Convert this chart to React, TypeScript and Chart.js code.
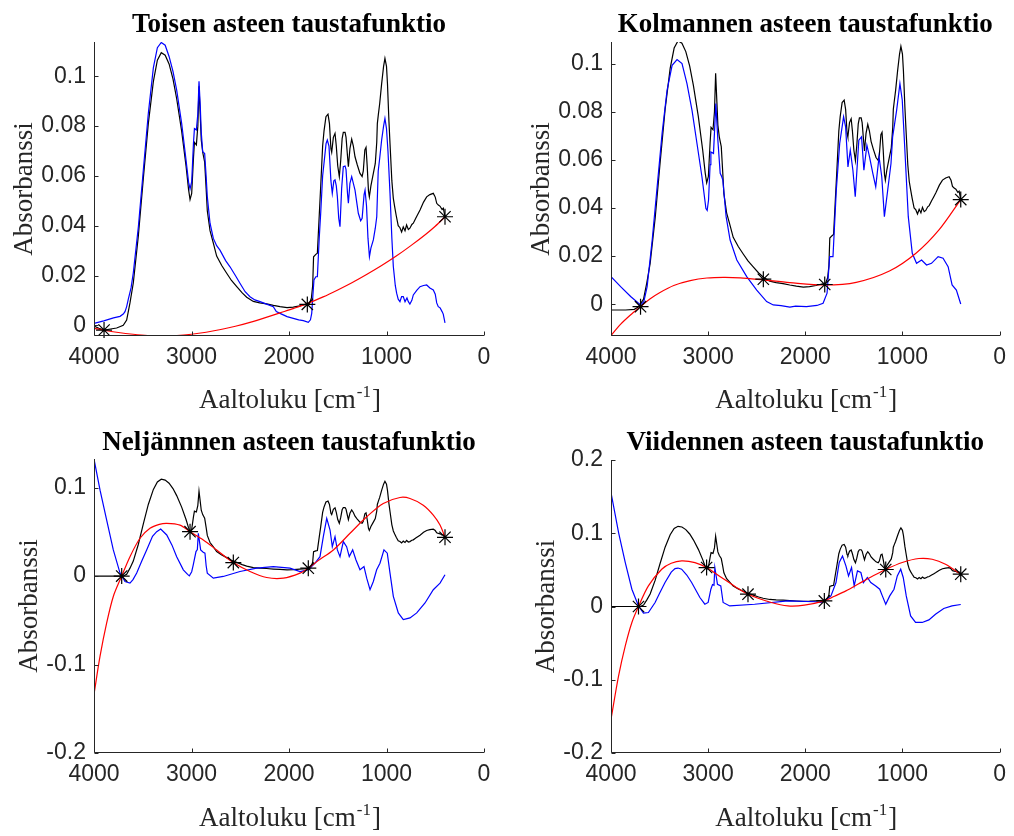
import React, { useEffect, useRef } from "react";
import { Chart, registerables } from "chart.js";

Chart.register(...registerables);

type Pt = [number, number];

// ---------- texts ----------
const TITLES = [
  "Toisen asteen taustafunktio",
  "Kolmannen asteen taustafunktio",
  "Neljännnen asteen taustafunktio",
  "Viidennen asteen taustafunktio",
];
const Y_LABEL = "Absorbanssi";
const X_LABEL_MAIN = "Aaltoluku [cm";
const X_LABEL_SUP = "-1";
const X_LABEL_END = "]";

// ---------- axes values ----------
const X_MIN = 0;
const X_MAX = 4000;
const X_STEP = 1000;
const Y_RANGES: Pt[] = [
  [-0.0043, 0.1138],
  [-0.0132, 0.109],
  [-0.2, 0.1324],
  [-0.2, 0.2],
];
const Y_STEPS = [0.02, 0.02, 0.1, 0.1];

// ---------- measured spectrum (black), common part ----------
const SPECTRUM: Pt[] = [
  [3700, 0.0], [3665, 0.0021], [3631, 0.009], [3597, 0.017], [3545, 0.036], [3494, 0.059],
  [3443, 0.081], [3391, 0.098], [3350, 0.1065], [3310, 0.1095], [3270, 0.1085], [3230, 0.105],
  [3190, 0.099], [3152, 0.091], [3101, 0.078], [3056, 0.064], [3030, 0.0545], [3015, 0.0505],
  [2998, 0.053], [2980, 0.067], [2970, 0.0735], [2950, 0.0725], [2935, 0.08], [2923, 0.096],
  [2910, 0.084], [2900, 0.0745], [2885, 0.0695], [2865, 0.0655], [2850, 0.055], [2838, 0.046],
  [2810, 0.038], [2776, 0.033], [2742, 0.0278], [2690, 0.024], [2639, 0.0209], [2590, 0.018],
  [2536, 0.0155], [2480, 0.013], [2434, 0.0113], [2366, 0.0096], [2300, 0.009], [2229, 0.0086],
  [2160, 0.008], [2092, 0.0075], [2020, 0.0071], [1956, 0.0073], [1890, 0.0078], [1820, 0.0085],
  [1790, 0.0088], [1770, 0.011], [1757, 0.016], [1748, 0.0275], [1725, 0.0285], [1709, 0.029],
  [1690, 0.044], [1675, 0.0557], [1655, 0.072], [1641, 0.078], [1621, 0.0838], [1600, 0.0848],
  [1585, 0.081], [1570, 0.071], [1562, 0.0695], [1545, 0.0755], [1528, 0.0771], [1515, 0.072],
  [1500, 0.064], [1484, 0.0597], [1470, 0.066], [1455, 0.075], [1443, 0.0775], [1425, 0.0775],
  [1415, 0.0755], [1400, 0.068], [1391, 0.0637], [1375, 0.071], [1357, 0.0748], [1340, 0.072],
  [1323, 0.0677], [1300, 0.0645], [1272, 0.061], [1250, 0.0598], [1238, 0.062], [1222, 0.0705],
  [1210, 0.0715], [1198, 0.064], [1185, 0.054], [1176, 0.0516], [1160, 0.056], [1135, 0.061],
  [1115, 0.065], [1100, 0.0735], [1094, 0.081], [1084, 0.0845], [1070, 0.089], [1050, 0.097],
  [1030, 0.104], [1016, 0.1072], [1000, 0.104], [990, 0.097], [975, 0.082], [964, 0.073],
  [945, 0.058], [930, 0.051], [916, 0.0476], [900, 0.044], [880, 0.04], [862, 0.0392],
  [845, 0.0375], [828, 0.0395], [810, 0.038], [794, 0.0403], [776, 0.0385], [760, 0.039],
  [740, 0.0405], [725, 0.041], [700, 0.043], [680, 0.0445], [656, 0.0463], [620, 0.0495],
  [588, 0.0516], [555, 0.0525], [520, 0.053], [500, 0.0515], [485, 0.049], [468, 0.0483],
  [450, 0.0478], [430, 0.0465], [417, 0.047], [400, 0.0436],
];
// start of the measured spectrum as drawn in each panel
const HEAD_P1: Pt[] = [[4000, -0.0003], [3950, -0.0012], [3897, -0.0019], [3830, -0.0015], [3768, -0.0011], [3730, -0.0005]];
const HEAD_P2: Pt[] = [[4000, -0.0024], [3850, -0.0024], [3760, -0.0021], [3720, -0.0012]];
const HEAD_P3: Pt[] = [[4000, 0.0], [3720, 0.0]];
const HEAD_P4: Pt[] = [[4000, 0.0], [3720, 0.0]];

// ---------- panel 1 (2nd degree) ----------
const BLUE_P1: Pt[] = [
  [4000, 0.0008], [3900, 0.0018], [3800, 0.003], [3733, 0.0036], [3700, 0.0045], [3682, 0.0055],
  [3665, 0.0075], [3648, 0.0105], [3620, 0.015], [3597, 0.021], [3545, 0.0396], [3494, 0.0624],
  [3443, 0.0851], [3391, 0.1035], [3350, 0.1115], [3310, 0.1136], [3270, 0.1125], [3230, 0.108],
  [3190, 0.102], [3152, 0.0945], [3101, 0.0811], [3056, 0.0664], [3030, 0.0575], [3015, 0.0548],
  [2998, 0.0577], [2980, 0.073], [2970, 0.079], [2950, 0.0785], [2935, 0.085], [2923, 0.098],
  [2910, 0.088], [2900, 0.0775], [2885, 0.0697], [2865, 0.069], [2850, 0.06], [2838, 0.0517],
  [2810, 0.041], [2776, 0.0349], [2742, 0.032], [2708, 0.0302], [2650, 0.026], [2605, 0.0235],
  [2550, 0.02], [2503, 0.0169], [2450, 0.0135], [2400, 0.0115], [2350, 0.0102], [2297, 0.0095],
  [2230, 0.0085], [2161, 0.0075], [2130, 0.0055], [2092, 0.0048], [2020, 0.0035], [1956, 0.0028],
  [1900, 0.0022], [1853, 0.0019], [1802, 0.0012], [1780, 0.0022], [1767, 0.0048], [1755, 0.012],
  [1744, 0.0182], [1725, 0.0195], [1709, 0.0195], [1690, 0.035], [1675, 0.045], [1655, 0.06],
  [1641, 0.0651], [1620, 0.073], [1607, 0.0744], [1590, 0.072], [1570, 0.058], [1556, 0.053],
  [1540, 0.058], [1528, 0.0584], [1515, 0.056], [1504, 0.0517], [1490, 0.043], [1477, 0.0396],
  [1460, 0.055], [1443, 0.0637], [1425, 0.064], [1415, 0.0625], [1400, 0.053], [1391, 0.049],
  [1375, 0.057], [1357, 0.0597], [1340, 0.057], [1323, 0.0543], [1300, 0.048], [1289, 0.045],
  [1265, 0.042], [1250, 0.043], [1230, 0.0525], [1220, 0.0543], [1205, 0.048], [1190, 0.035],
  [1175, 0.0276], [1160, 0.031], [1135, 0.0343], [1115, 0.039], [1100, 0.0436], [1085, 0.062],
  [1070, 0.067], [1050, 0.0744], [1030, 0.08], [1016, 0.0831], [1000, 0.079], [985, 0.07],
  [964, 0.053], [945, 0.035], [930, 0.0236], [910, 0.016], [896, 0.0129], [880, 0.0105],
  [862, 0.0095], [845, 0.0115], [828, 0.0115], [810, 0.0095], [790, 0.011], [776, 0.0095],
  [760, 0.0085], [740, 0.01], [725, 0.0122], [690, 0.014], [656, 0.0155], [620, 0.016],
  [588, 0.0162], [555, 0.015], [520, 0.0142], [500, 0.0125], [485, 0.009], [469, 0.0075],
  [450, 0.007], [430, 0.0055], [418, 0.0045], [400, 0.001],
];
const RED_P1: Pt[] = [
  [4000, -0.0012], [3897, -0.002], [3750, -0.0029], [3600, -0.0036], [3450, -0.0041], [3315, -0.0042],
  [3150, -0.0041], [3000, -0.0036], [2850, -0.0028], [2700, -0.0017], [2550, -0.0004], [2400, 0.0012],
  [2250, 0.003], [2092, 0.005], [1950, 0.0068], [1820, 0.0086], [1650, 0.0114], [1500, 0.0142],
  [1350, 0.0172], [1200, 0.0205], [1050, 0.024], [900, 0.0278], [750, 0.032], [600, 0.0365],
  [500, 0.0398], [400, 0.0436],
];
const STARS_P1: Pt[] = [[3897, -0.0019], [1812, 0.0084], [400, 0.0436]];

// ---------- panel 2 (3rd degree) ----------
const BLUE_P2: Pt[] = [
  [4000, 0.0115], [3901, 0.0073], [3798, 0.0032], [3696, -0.0003], [3662, 0.0011], [3628, 0.0073],
  [3576, 0.0267], [3525, 0.0488], [3474, 0.071], [3423, 0.0889], [3371, 0.0993], [3320, 0.1017],
  [3269, 0.1], [3218, 0.0917], [3166, 0.0806], [3115, 0.0668], [3064, 0.053], [3023, 0.0398],
  [3010, 0.039], [2996, 0.0433], [2980, 0.058], [2972, 0.0633], [2945, 0.0627], [2921, 0.0834],
  [2900, 0.0682], [2876, 0.0544], [2860, 0.053], [2849, 0.0516], [2815, 0.0364], [2774, 0.0267],
  [2705, 0.0184], [2603, 0.0115], [2500, 0.0059], [2398, 0.0011], [2330, -0.0003], [2250, -0.0006],
  [2159, -0.0012], [2100, -0.0008], [1988, -0.001], [1880, -0.0005], [1817, 0.0004], [1776, 0.0046],
  [1749, 0.0198], [1715, 0.0198], [1681, 0.0474], [1646, 0.0668], [1606, 0.0779], [1585, 0.0737],
  [1561, 0.0571], [1537, 0.064], [1510, 0.0557], [1486, 0.0447], [1449, 0.0682], [1421, 0.0696],
  [1397, 0.0557], [1366, 0.0661], [1339, 0.0613], [1305, 0.0544], [1275, 0.0488], [1241, 0.0613],
  [1213, 0.053], [1186, 0.0364], [1152, 0.0474], [1118, 0.0585], [1101, 0.0696], [1060, 0.0806],
  [1026, 0.0917], [1002, 0.0848], [975, 0.064], [940, 0.0364], [899, 0.0212], [855, 0.017],
  [803, 0.0184], [752, 0.0163], [701, 0.017], [633, 0.0198], [582, 0.0191], [530, 0.0156],
  [489, 0.008], [445, 0.0059], [400, 0.0001],
];
const RED_P2: Pt[] = [
  [4000, -0.013], [3900, -0.0083], [3800, -0.0045], [3696, -0.001], [3600, 0.0022], [3500, 0.0048],
  [3354, 0.0078], [3184, 0.0098], [3013, 0.0109], [2842, 0.0112], [2671, 0.011], [2432, 0.0101],
  [2159, 0.009], [1800, 0.008], [1476, 0.0091], [1134, 0.0138], [861, 0.0212], [622, 0.031],
  [400, 0.0435],
];
const STARS_P2: Pt[] = [[3696, -0.001], [2432, 0.0104], [1800, 0.0082], [400, 0.0435]];

// ---------- panel 3 (4th degree) ----------
const BLUE_P3: Pt[] = [
  [4000, 0.1324], [3938, 0.0971], [3870, 0.0634], [3802, 0.0296], [3733, 0.0034], [3682, -0.0061],
  [3631, -0.0079], [3600, -0.004], [3562, 0.0034], [3510, 0.017], [3460, 0.0296], [3400, 0.045],
  [3357, 0.0502], [3316, 0.0532], [3254, 0.0465], [3200, 0.035], [3152, 0.022], [3084, 0.0071],
  [3040, 0.002], [3022, 0.0003], [2998, 0.005], [2982, 0.0127], [2954, 0.0277], [2940, 0.03],
  [2930, 0.0484], [2906, 0.0296], [2880, 0.027], [2862, 0.0259], [2850, 0.012], [2838, 0.0034],
  [2776, -0.0023], [2674, -0.0004], [2503, 0.0052], [2331, 0.009], [2161, 0.0108], [1990, 0.009],
  [1887, 0.005], [1802, 0.0071], [1733, 0.0146], [1682, 0.022], [1648, 0.0446], [1613, 0.0653],
  [1579, 0.0521], [1556, 0.0333], [1528, 0.0446], [1504, 0.0296], [1477, 0.022], [1443, 0.039],
  [1409, 0.0333], [1382, 0.022], [1347, 0.0296], [1313, 0.0183], [1272, 0.0071], [1231, 0.0108],
  [1203, -0.0023], [1169, -0.0154], [1135, -0.0061], [1101, 0.0071], [1067, 0.0146], [1026, 0.0296],
  [992, 0.0259], [964, 0.0034], [930, -0.0229], [879, -0.0416], [828, -0.0492], [759, -0.0473],
  [690, -0.0416], [605, -0.0304], [520, -0.0154], [451, -0.0079], [400, 0.0015],
];
const RED_P3: Pt[] = [
  [4000, -0.1336], [3938, -0.0905], [3870, -0.0529], [3802, -0.023], [3716, 0.0], [3631, 0.022],
  [3528, 0.0428], [3426, 0.054], [3330, 0.0585], [3254, 0.0597], [3118, 0.0577], [3015, 0.0502],
  [2879, 0.0409], [2742, 0.0296], [2571, 0.0153], [2400, 0.0052], [2229, -0.0016], [2058, -0.0023],
  [1887, 0.0034], [1802, 0.009], [1700, 0.0175], [1545, 0.0296], [1374, 0.0484], [1203, 0.0671],
  [1033, 0.0822], [862, 0.0889], [759, 0.0878], [623, 0.0802], [520, 0.069], [451, 0.0577],
  [400, 0.0439],
];
const STARS_P3: Pt[] = [[3716, 0.0], [3015, 0.0502], [2571, 0.0153], [1802, 0.009], [400, 0.0439]];

// ---------- panel 4 (5th degree) ----------
const BLUE_P4: Pt[] = [
  [4000, 0.1555], [3922, 0.101], [3853, 0.06], [3785, 0.0236], [3717, 0.0008], [3666, -0.0091],
  [3615, -0.0082], [3546, 0.0055], [3500, 0.018], [3444, 0.0327], [3380, 0.047], [3341, 0.0518],
  [3310, 0.0525], [3273, 0.0509], [3220, 0.043], [3170, 0.0327], [3085, 0.0123], [3034, 0.0031],
  [3000, 0.0055], [2972, 0.0236], [2955, 0.03], [2940, 0.029], [2931, 0.0532], [2904, 0.0304],
  [2870, 0.0281], [2846, 0.0055], [2778, 0.0008], [2522, 0.0031], [2180, 0.0076], [1900, 0.0065],
  [1838, 0.0055], [1804, 0.0076], [1736, 0.0145], [1684, 0.0327], [1651, 0.06], [1617, 0.069],
  [1582, 0.0554], [1555, 0.0417], [1524, 0.0532], [1497, 0.0281], [1463, 0.0486], [1428, 0.0464],
  [1402, 0.0327], [1361, 0.0396], [1326, 0.0327], [1275, 0.0281], [1234, 0.0236], [1207, 0.0145],
  [1172, 0.0031], [1131, 0.0145], [1087, 0.0236], [1053, 0.0417], [1018, 0.0509], [992, 0.0396],
  [961, 0.0145], [916, -0.0128], [865, -0.0218], [797, -0.0218], [728, -0.0183], [660, -0.0105],
  [575, -0.0027], [490, 0.0008], [400, 0.0027],
];
const RED_P4: Pt[] = [
  [4000, -0.1538], [3922, -0.0947], [3853, -0.0538], [3785, -0.0218], [3717, 0.0], [3615, 0.0281],
  [3478, 0.0509], [3380, 0.059], [3273, 0.0622], [3136, 0.06], [3016, 0.0532], [2863, 0.0396],
  [2720, 0.027], [2590, 0.0168], [2350, 0.0055], [2180, 0.0008], [2009, 0.0018], [1804, 0.0076],
  [1700, 0.014], [1582, 0.0213], [1450, 0.031], [1343, 0.039], [1172, 0.0505], [1002, 0.06],
  [831, 0.0655], [694, 0.0645], [557, 0.0577], [400, 0.0441],
];
const STARS_P4: Pt[] = [[3717, 0.0], [3016, 0.0532], [2590, 0.0168], [1804, 0.0076], [1172, 0.0505], [400, 0.0441]];

const HEADS = [HEAD_P1, HEAD_P2, HEAD_P3, HEAD_P4];
const BLUES = [BLUE_P1, BLUE_P2, BLUE_P3, BLUE_P4];
const REDS = [RED_P1, RED_P2, RED_P3, RED_P4];
const STARS = [STARS_P1, STARS_P2, STARS_P3, STARS_P4];

// ---------- layout (pixels) ----------
const CANVAS_W = 507;
const CANVAS_H = 418;
const FRAMES = [
  { left: 0, top: 0, area: { l: 94, t: 42, r: 484, b: 336 } },
  { left: 507, top: 0, area: { l: 104, t: 42, r: 494, b: 336 } },
  { left: 0, top: 418, area: { l: 94, t: 41, r: 484, b: 335 } },
  { left: 507, top: 418, area: { l: 104, t: 42, r: 494, b: 335 } },
];

const INK = "#262626";
const TICK_FONT = { family: "'Liberation Sans', Arial, sans-serif", size: 23 };
const SERIF = "'Liberation Serif', 'Times New Roman', serif";

const toXY = (pts: Pt[]) => pts.map(([x, y]) => ({ x, y }));
const fmt = (v: number) => String(Math.round(v * 1e6) / 1e6);

const decorPlugin = {
  id: "decor",
  afterDraw(chart: any, _args: any, opts: any) {
    const { ctx, chartArea: a, scales } = chart;
    const xs = scales.x;
    const ys = scales.y;
    ctx.save();
    // axis lines (box off: left and bottom)
    const L = Math.round(a.left) + 0.5;
    const B = Math.round(a.bottom) - 0.5;
    ctx.strokeStyle = INK;
    ctx.lineWidth = 1;
    ctx.beginPath();
    ctx.moveTo(L, Math.round(a.top));
    ctx.lineTo(L, B);
    ctx.lineTo(Math.round(a.right), B);
    // inward ticks
    xs.ticks.forEach((t: any) => {
      const px = Math.round(xs.getPixelForValue(t.value)) + 0.5;
      ctx.moveTo(px, B);
      ctx.lineTo(px, B - 4);
    });
    ys.ticks.forEach((t: any) => {
      const py = Math.round(ys.getPixelForValue(t.value)) + 0.5;
      ctx.moveTo(L, py);
      ctx.lineTo(L + 4, py);
    });
    ctx.stroke();

    const cx = (a.left + a.right) / 2;
    const cy = (a.top + a.bottom) / 2;

    // title
    ctx.fillStyle = "#000";
    ctx.font = `bold 27px ${SERIF}`;
    ctx.textAlign = "center";
    ctx.textBaseline = "alphabetic";
    ctx.fillText(opts.title, cx, 32);

    // x label with superscript
    ctx.fillStyle = INK;
    const mainFont = `27px ${SERIF}`;
    const supFont = `17px ${SERIF}`;
    ctx.font = mainFont;
    const w1 = ctx.measureText(X_LABEL_MAIN).width;
    const w3 = ctx.measureText(X_LABEL_END).width;
    ctx.font = supFont;
    const w2 = ctx.measureText(X_LABEL_SUP).width;
    const x0 = cx - (w1 + w2 + w3) / 2;
    ctx.textAlign = "left";
    ctx.font = mainFont;
    ctx.fillText(X_LABEL_MAIN, x0, 408);
    ctx.font = supFont;
    ctx.fillText(X_LABEL_SUP, x0 + w1 + 1, 397);
    ctx.font = mainFont;
    ctx.fillText(X_LABEL_END, x0 + w1 + w2 + 2, 408);

    // y label
    ctx.font = `${TICK_FONT.size}px ${TICK_FONT.family}`;
    let maxW = 0;
    ys.ticks.forEach((t: any) => {
      maxW = Math.max(maxW, ctx.measureText(fmt(t.value)).width);
    });
    const xb = a.left - 8 - maxW - 9;
    ctx.translate(xb, cy);
    ctx.rotate(-Math.PI / 2);
    ctx.font = mainFont;
    ctx.textAlign = "center";
    ctx.fillText(Y_LABEL, 0, 0);
    ctx.restore();
  },
};

function Panel({ index }: { index: number }) {
  const ref = useRef<HTMLCanvasElement | null>(null);
  useEffect(() => {
    const canvas = ref.current;
    if (!canvas) return;
    const f = FRAMES[index];
    const [ymin, ymax] = Y_RANGES[index];
    const black = [...HEADS[index], ...SPECTRUM];
    const chart = new Chart(canvas, {
      type: "line",
      data: {
        datasets: [
          {
            data: toXY(STARS[index]),
            showLine: false,
            pointStyle: "star",
            pointRadius: 8,
            pointBorderColor: "#000",
            pointBorderWidth: 1.2,
            pointBackgroundColor: "#000",
            borderColor: "#000",
            clip: false,
          } as any,
          {
            data: toXY(REDS[index]),
            borderColor: "#ff0000",
            borderWidth: 1.2,
            pointRadius: 0,
            tension: 0.3,
          },
          {
            data: toXY(BLUES[index]),
            borderColor: "#0000ff",
            borderWidth: 1.2,
            pointRadius: 0,
            tension: 0,
          },
          {
            data: toXY(black),
            borderColor: "#000000",
            borderWidth: 1.2,
            pointRadius: 0,
            tension: 0,
          },
        ],
      },
      options: {
        animation: false,
        responsive: false,
        maintainAspectRatio: false,
        events: [],
        layout: {
          padding: { left: 0, top: f.area.t, right: CANVAS_W - f.area.r, bottom: 0 },
        },
        plugins: {
          legend: { display: false },
          tooltip: { enabled: false },
          title: { display: false },
          decor: { title: TITLES[index] },
        } as any,
        scales: {
          x: {
            type: "linear",
            min: X_MIN,
            max: X_MAX,
            reverse: true,
            grid: { display: false, drawTicks: false },
            border: { display: false },
            ticks: {
              stepSize: X_STEP,
              autoSkip: false,
              maxRotation: 0,
              padding: 8,
              color: INK,
              font: TICK_FONT,
              callback: (v: any) => String(v),
            },
            afterFit: (s: any) => {
              s.height = CANVAS_H - f.area.b;
            },
          },
          y: {
            type: "linear",
            min: ymin,
            max: ymax,
            grid: { display: false, drawTicks: false },
            border: { display: false },
            ticks: {
              stepSize: Y_STEPS[index],
              includeBounds: false,
              autoSkip: false,
              padding: 8,
              color: INK,
              font: TICK_FONT,
              callback: (v: any) => fmt(Number(v)),
            },
            afterFit: (s: any) => {
              s.width = f.area.l;
            },
          },
        },
      },
      plugins: [decorPlugin],
    });
    return () => chart.destroy();
  }, [index]);
  const f = FRAMES[index];
  return (
    <canvas
      ref={ref}
      width={CANVAS_W}
      height={CANVAS_H}
      style={{ position: "absolute", left: f.left, top: f.top, width: CANVAS_W, height: CANVAS_H }}
    />
  );
}

export default function App() {
  return (
    <div style={{ position: "absolute", left: 0, top: 0, width: 1014, height: 836, background: "#fff" }}>
      {[0, 1, 2, 3].map((i) => (
        <Panel key={i} index={i} />
      ))}
    </div>
  );
}
